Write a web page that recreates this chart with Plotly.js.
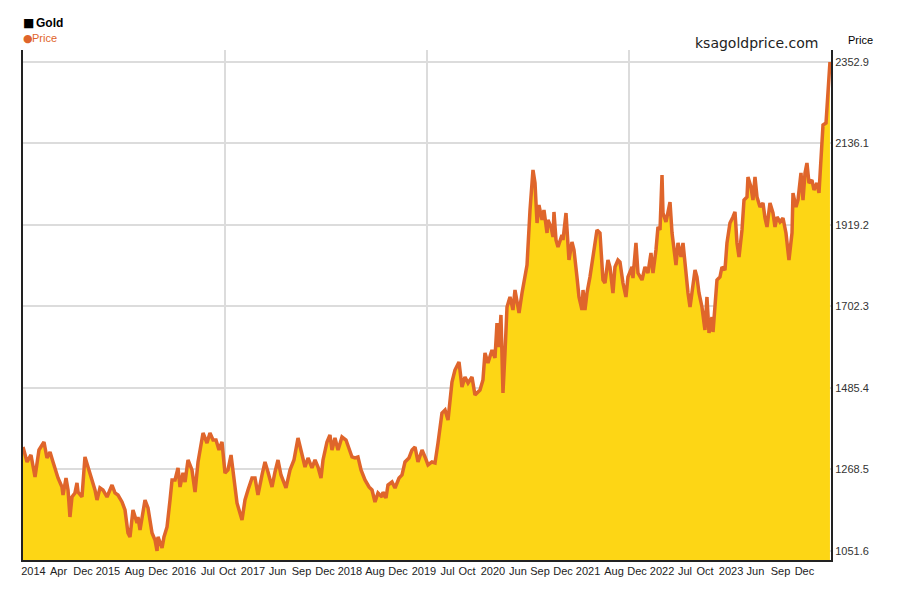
<!DOCTYPE html>
<html>
<head>
<meta charset="utf-8">
<script src="https://cdn.plot.ly/plotly-3.0.1.min.js"></script>
<style>
  html, body { margin: 0; padding: 0; background: #ffffff; }
  #chart { width: 900px; height: 600px; }
</style>
</head>
<body>
<div id="chart"></div>
<script>
// Time in decimal years (Apr 2014 .. Apr 2024)
var years = [
2014.280,2014.330,2014.379,2014.429,2014.478,2014.540,2014.577,2014.615,2014.652,2014.714,
2014.763,2014.776,2014.813,2014.838,2014.862,2014.887,2014.924,2014.949,2014.962,2015.011,
2015.048,2015.086,2015.135,2015.172,2015.197,2015.234,2015.271,2015.321,2015.383,2015.420,
2015.457,2015.507,2015.544,2015.581,2015.606,2015.643,2015.693,2015.705,2015.730,2015.767,
2015.792,2015.829,2015.879,2015.916,2015.941,2015.953,2016.003,2016.027,2016.065,2016.102,
2016.127,2016.164,2016.201,2016.226,2016.263,2016.288,2016.325,2016.374,2016.412,2016.449,
2016.473,2016.511,2016.560,2016.597,2016.635,2016.672,2016.709,2016.746,2016.783,2016.820,
2016.858,2016.882,2016.932,2016.994,2017.031,2017.068,2017.118,2017.155,2017.192,2017.242,
2017.279,2017.316,2017.366,2017.403,2017.440,2017.477,2017.539,2017.589,2017.638,2017.688,
2017.737,2017.775,2017.812,2017.861,2017.899,2017.936,2017.973,2017.998,2018.047,2018.084,
2018.109,2018.146,2018.184,2018.233,2018.283,2018.320,2018.357,2018.394,2018.431,2018.469,
2018.518,2018.568,2018.605,2018.642,2018.679,2018.729,2018.741,2018.778,2018.803,2018.853,
2018.890,2018.940,2018.977,2019.014,2019.063,2019.101,2019.138,2019.175,2019.225,2019.262,
2019.299,2019.348,2019.386,2019.423,2019.472,2019.510,2019.547,2019.596,2019.633,2019.683,
2019.720,2019.757,2019.795,2019.844,2019.881,2019.943,2019.980,2020.005,2020.042,2020.092,
2020.129,2020.154,2020.179,2020.203,2020.228,2020.253,2020.278,2020.315,2020.352,2020.377,
2020.402,2020.427,2020.464,2020.489,2020.526,2020.563,2020.600,2020.625,2020.650,2020.674,
2020.712,2020.736,2020.774,2020.786,2020.823,2020.848,2020.860,2020.885,2020.910,2020.959,
2020.972,2021.009,2021.021,2021.046,2021.083,2021.108,2021.145,2021.170,2021.207,2021.220,
2021.244,2021.269,2021.306,2021.344,2021.393,2021.430,2021.467,2021.492,2021.529,2021.554,
2021.591,2021.616,2021.653,2021.678,2021.715,2021.752,2021.777,2021.827,2021.839,2021.876,
2021.901,2021.951,2021.988,2022.025,2022.062,2022.087,2022.124,2022.149,2022.174,2022.199,
2022.211,2022.248,2022.273,2022.298,2022.323,2022.335,2022.372,2022.397,2022.434,2022.459,
2022.484,2022.521,2022.546,2022.583,2022.608,2022.632,2022.657,2022.694,2022.731,2022.756,
2022.781,2022.818,2022.831,2022.880,2022.917,2022.942,2022.979,2023.004,2023.041,2023.078,
2023.103,2023.128,2023.153,2023.190,2023.215,2023.252,2023.264,2023.301,2023.326,2023.351,
2023.376,2023.413,2023.450,2023.475,2023.500,2023.537,2023.574,2023.599,2023.624,2023.661,
2023.698,2023.735,2023.760,2023.772,2023.810,2023.822,2023.859,2023.884,2023.921,2023.946,
2023.971,2023.995,2024.020,2024.057,2024.082,2024.119,2024.144,2024.181,2024.194,2024.231,
2024.256,2024.280
];

// Gold price (USD / oz)
var prices = [
1328.4,1288.5,1307.1,1248.5,1320.4,1341.7,1299.1,1315.1,1288.5,1245.9,
1221.9,1200.6,1245.9,1213.9,1142.1,1195.3,1206.0,1232.6,1208.6,1195.3,
1301.8,1275.1,1235.2,1213.9,1187.3,1219.3,1213.9,1195.3,1227.2,1206.0,
1200.6,1182.0,1160.7,1099.5,1088.9,1160.7,1126.1,1142.1,1107.5,1160.7,
1187.3,1166.0,1099.5,1080.9,1051.6,1088.9,1059.6,1088.9,1115.5,1187.3,
1240.6,1240.6,1272.5,1221.9,1259.2,1235.2,1293.8,1267.2,1208.6,1288.5,
1320.4,1365.6,1339.0,1365.6,1347.0,1347.0,1320.4,1341.7,1259.2,1267.2,
1307.1,1259.2,1179.3,1134.1,1187.3,1213.9,1245.9,1245.9,1200.6,1253.9,
1288.5,1261.8,1221.9,1261.8,1293.8,1253.9,1219.3,1267.2,1293.8,1352.3,
1312.4,1275.1,1299.1,1272.5,1293.8,1275.1,1245.9,1293.8,1341.7,1360.3,
1320.4,1352.3,1320.4,1355.0,1347.0,1320.4,1301.8,1299.1,1301.8,1267.2,
1240.6,1221.9,1213.9,1182.0,1206.0,1195.3,1208.6,1192.6,1227.2,1235.2,
1219.3,1245.9,1253.9,1288.5,1299.1,1320.4,1328.4,1288.5,1320.4,1301.8,
1280.5,1288.5,1285.8,1339.0,1418.9,1426.8,1400.2,1501.4,1533.3,1554.6,
1488.1,1514.7,1498.7,1514.7,1466.8,1480.1,1506.7,1578.5,1551.9,1586.5,
1565.2,1658.4,1594.5,1679.7,1472.1,1578.5,1701.0,1727.6,1693.0,1746.2,
1711.6,1685.0,1738.2,1772.8,1812.7,1959.1,2065.6,2031.0,1924.5,1972.4,
1932.5,1959.1,1897.9,1932.5,1913.9,1887.2,1953.8,1879.3,1860.6,1892.6,
1879.3,1951.1,1897.9,1826.0,1873.9,1852.6,1780.8,1727.6,1693.0,1746.2,
1693.0,1738.2,1780.8,1834.0,1905.9,1897.9,1772.8,1764.8,1826.0,1807.4,
1738.2,1807.4,1826.0,1820.7,1764.8,1727.6,1780.8,1807.4,1778.1,1871.3,
1791.4,1772.8,1807.4,1791.4,1844.7,1791.4,1852.6,1913.9,1905.9,2052.2,
1951.1,1927.2,1959.1,1980.4,1897.9,1879.3,1812.7,1871.3,1834.0,1871.3,
1807.4,1738.2,1701.0,1754.2,1799.4,1780.8,1738.2,1701.0,1639.7,1727.6,
1631.8,1674.3,1634.4,1772.8,1780.8,1807.4,1799.4,1871.3,1924.5,1940.5,
1953.8,1871.3,1834.0,1905.9,1985.7,1993.7,2046.9,2020.3,1985.7,2046.9,
1993.7,1967.1,1977.7,1937.8,1913.9,1977.7,1951.1,1913.9,1940.5,1927.2,
1937.8,1897.9,1852.6,1826.0,1897.9,2004.3,1967.1,1985.7,2057.6,1985.7,
2057.6,2084.2,2031.0,2038.9,2012.3,2031.0,2004.3,2132.1,2185.3,2190.6,
2259.8,2352.9
];

// Axis labels as printed on the chart
var xLabels = ["2014","Apr","Dec","2015","Aug","Dec","2016","Jul","Oct","2017","Jun","Sep","Dec",
               "2018","Aug","Dec","2019","Jul","Oct","2020","Jun","Sep","Dec","2021","Aug","Dec",
               "2022","Jul","Oct","2023","Jun","Sep","Dec"];
var xLabelPos = [2014.410,2014.720,2015.024,2015.333,2015.662,2015.953,2016.275,2016.573,2016.814,
                 2017.130,2017.434,2017.731,2018.023,2018.332,2018.642,2018.927,2019.249,2019.541,
                 2019.782,2020.104,2020.414,2020.687,2020.972,2021.282,2021.604,2021.889,2022.199,
                 2022.484,2022.731,2023.054,2023.357,2023.667,2023.964];
var yTicks = [1051.6, 1268.5, 1485.4, 1702.3, 1919.2, 2136.1, 2352.9];

var trace = {
  x: years,
  y: prices,
  type: 'scatter',
  mode: 'lines',
  fill: 'tozeroy',
  fillcolor: '#FDD615',
  line: { color: '#DF652B', width: 3.5 },
  hoverinfo: 'skip'
};

var tickFont = { family: 'Liberation Sans, Arial, sans-serif', size: 11, color: '#222' };

var gridShape = function (px) {
  return { type: 'line', xref: 'paper', yref: 'paper', x0: px, x1: px, y0: 0, y1: 1,
           line: { color: '#dcdcdc', width: 2 }, layer: 'below' };
};

var layout = {
  width: 900,
  height: 600,
  margin: { l: 23, r: 69, t: 50, b: 40 },
  paper_bgcolor: '#ffffff',
  plot_bgcolor: '#ffffff',
  showlegend: false,
  xaxis: {
    type: 'linear',
    range: [2014.280, 2024.293],
    tickmode: 'array',
    tickvals: xLabelPos,
    ticktext: xLabels,
    showgrid: false,
    zeroline: false,
    showline: true,
    linecolor: '#222',
    linewidth: 2,
    ticks: '',
    tickfont: tickFont,
    fixedrange: true
  },
  yaxis: {
    side: 'right',
    range: [1027.6, 2384.9],
    tickmode: 'array',
    tickvals: yTicks,
    ticktext: yTicks.map(function (v) { return v.toFixed(1); }),
    showgrid: true,
    gridcolor: '#dcdcdc',
    gridwidth: 2,
    zeroline: false,
    showline: true,
    mirror: true,
    linecolor: '#222',
    linewidth: 2,
    ticks: '',
    tickfont: { family: 'Liberation Sans, Arial, sans-serif', size: 11, color: '#333' },
    fixedrange: true
  },
  shapes: [gridShape(0.25), gridShape(0.5), gridShape(0.75)],
  annotations: [
    { xref: 'paper', yref: 'paper', x: -0.002, y: 1.0529, xanchor: 'left', yanchor: 'middle',
      text: '■', showarrow: false,
      font: { family: 'DejaVu Sans, sans-serif', size: 12, color: '#000' } },
    { xref: 'paper', yref: 'paper', x: 0.0135, y: 1.0529, xanchor: 'left', yanchor: 'middle',
      text: '<b>Gold</b>', showarrow: false,
      font: { family: 'Liberation Sans, Arial, sans-serif', size: 12, color: '#000' } },
    { xref: 'paper', yref: 'paper', x: -0.002, y: 1.0235, xanchor: 'left', yanchor: 'middle',
      text: '●', showarrow: false,
      font: { family: 'DejaVu Sans, sans-serif', size: 11, color: '#DF652B' } },
    { xref: 'paper', yref: 'paper', x: 0.0085, y: 1.0235, xanchor: 'left', yanchor: 'middle',
      text: 'Price', showarrow: false,
      font: { family: 'Liberation Sans, Arial, sans-serif', size: 11, color: '#DF652B' } },
    { xref: 'paper', yref: 'paper', x: 0.9864, y: 1.0137, xanchor: 'right', yanchor: 'middle',
      text: 'ksagoldprice.com', showarrow: false,
      font: { family: 'DejaVu Sans, Verdana, sans-serif', size: 14, color: '#222' } },
    { xref: 'paper', yref: 'paper', x: 1.0371, y: 1.0196, xanchor: 'center', yanchor: 'middle',
      text: 'Price', showarrow: false,
      font: { family: 'Liberation Sans, Arial, sans-serif', size: 11, color: '#000' } }
  ]
};

Plotly.newPlot('chart', [trace], layout, { displayModeBar: false, staticPlot: true });
</script>
</body>
</html>
